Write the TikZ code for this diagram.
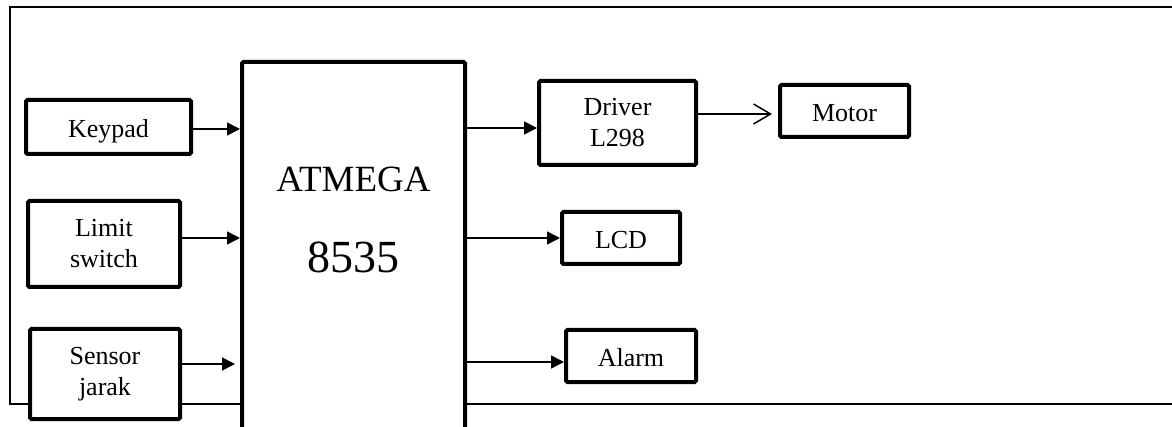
\documentclass[tikz,border=0pt]{standalone}
\usepackage{fontspec}
\setmainfont{Liberation Serif}
\usetikzlibrary{arrows.meta}
\tikzset{
  blk/.style={draw, line width=4pt, fill=white, rounded corners=1.5pt,
    font=\fontsize{26}{31}\selectfont, align=center, inner sep=0pt},
  oneline/.style={text height=21pt, text depth=0pt},
  frameline/.style={line width=2pt},
  fa/.style={line width=1.5pt, -{Triangle[length=13pt,width=13pt]}},
  oa/.style={line width=1.5pt, -{Straight Barb[length=17pt,width=20pt,line width=1.5pt]}}
}
\begin{document}
\begin{tikzpicture}[x=1pt,y=-1pt]
\useasboundingbox (0,0) rectangle (1172,427);
\clip (0,0) rectangle (1172,427);
% frame
\draw[frameline] (1172,7) -| (10,404) -- (1172,404);
% left blocks
\node[blk, oneline, minimum width=165pt, minimum height=54pt] (kp) at (108.5,127) {Keypad};
\node[blk, minimum width=152pt, minimum height=86pt] (ls) at (104,244) {Limit\\switch};
\node[blk, minimum width=150pt, minimum height=90pt] (sj) at (105,374) {Sensor\\jarak};
% microcontroller
\node[blk, minimum width=223pt, minimum height=378pt] (atm) at (353.5,251) {};
\node[font=\fontsize{37}{37}\selectfont, anchor=base, inner sep=0pt] (atmA) at (353.5,192) {ATMEGA};
\node[font=\fontsize{46}{46}\selectfont, anchor=base, inner sep=0pt] (atmB) at (353.5,273) {8535};
% right blocks
\node[blk, minimum width=157pt, minimum height=84pt] (drv) at (617.5,123) {Driver\\L298};
\node[blk, oneline, minimum width=129pt, minimum height=52pt] (mot) at (844.5,111) {Motor};
\node[blk, oneline, minimum width=118pt, minimum height=52pt] (lcd) at (621,238) {LCD};
\node[blk, oneline, minimum width=130pt, minimum height=52pt] (alm) at (631,356) {Alarm};
% inputs
\draw[fa] ([yshift=-2pt]kp.east) -- ([yshift=-2pt]kp.east -| atm.west);
\draw[fa] ([yshift=6pt]ls.east) -- ([yshift=6pt]ls.east -| atm.west);
\draw[fa] ([yshift=10pt]sj.east) -- ([xshift=-5pt,yshift=10pt]sj.east -| atm.west);
% outputs
\draw[fa] ([yshift=-5pt]drv.west -| atm.east) -- ([yshift=-5pt]drv.west);
\draw[oa] ([yshift=-3pt]mot.west -| drv.east) -- ([xshift=-6pt,yshift=-3pt]mot.west);
\draw[fa] (lcd.west -| atm.east) -- (lcd.west);
\draw[fa] ([yshift=-6pt]alm.west -| atm.east) -- ([yshift=-6pt]alm.west);
\end{tikzpicture}
\end{document}
